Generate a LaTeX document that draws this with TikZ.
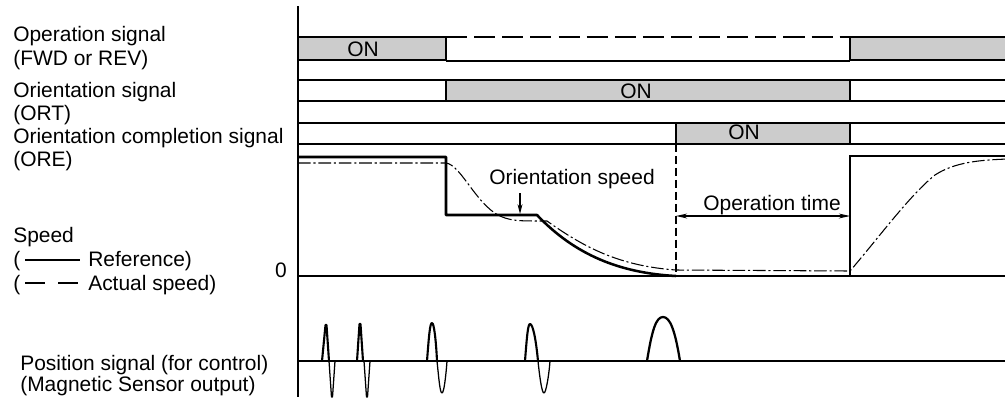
\documentclass[tikz,border=0pt]{standalone}
\usepackage{fontspec}
\setmainfont{Liberation Sans}
\usetikzlibrary{arrows.meta}
\begin{document}
\begin{tikzpicture}[x=0.025cm,y=-0.025cm,
  lbl/.style={anchor=base west,inner sep=0pt,font=\fontsize{14.9}{17}\selectfont},
  ctext/.style={anchor=base,inner sep=0pt,font=\fontsize{14.9}{17}\selectfont},
  ontext/.style={inner sep=0pt,font=\fontsize{14.9}{17}\selectfont},
  thk/.style={line width=1.8pt},
  onbox/.style={draw,line width=1.8pt,fill=gray!40},
  offbox/.style={draw,line width=1.8pt,fill=white},
  actual/.style={line width=0.75pt,dash pattern=on 9pt off 2pt on 1.5pt off 2pt},
  thinarrow/.style={line width=0.8pt},
]
\useasboundingbox (0,0) rectangle (1005,397);
\begin{scope}
\clip (0,0) rectangle (1005,397);

% ---------- labels ----------
\node[lbl] (l1a) at (13,41.7) {Operation signal};
\node[lbl] (l1b) at (13,65) {(FWD or REV)};
\node[lbl] (l2a) at (13,97) {Orientation signal};
\node[lbl] (l2b) at (13,120.5) {(ORT)};
\node[lbl] (l3a) at (13,143.3) {Orientation completion signal};
\node[lbl] (l3b) at (13,166.5) {(ORE)};
\node[lbl] (sp) at (13,242) {Speed};
\node[lbl] (spa) at (13,266) {(};
\node[lbl] (spb) at (88,266) {Reference)};
\node[lbl] (spc) at (13,290) {(};
\node[lbl] (spd) at (88,290) {Actual speed)};
\draw[line width=1.3pt] (25,260) -- (80,260);
\draw[line width=1.3pt] (25,283) -- (45,283) (58,283) -- (78,283);
\node[ctext] (zero) at (281,277) {0};
\node[lbl] (pos1) at (20,370) {Position signal (for control)};
\node[lbl] (pos2) at (20,391) {(Magnetic Sensor output)};

% ---------- operation signal ----------
\draw[onbox] (298,37) rectangle (446,60);
\node[ontext] (on1) at (363,49) {ON};
\draw[thk,dash pattern=on 15pt off 5pt] (446,37) -- (850,37);
\draw[line width=1.2pt] (446,61) -- (850,61);
\draw[thk] (446,37) -- (446,61);
\draw[onbox] (850,37) rectangle (1012,60);

% ---------- orientation signal ----------
\draw[offbox] (298,80) rectangle (446,101);
\draw[onbox] (446,80) rectangle (850,101);
\draw[offbox] (850,80) rectangle (1012,101);
\node[ontext] (on2) at (636,91) {ON};

% ---------- orientation completion ----------
\draw[offbox] (298,123) rectangle (676,144);
\draw[onbox] (676,123) rectangle (850,144);
\draw[offbox] (850,123) rectangle (1012,144);
\node[ontext] (on3) at (744,132.5) {ON};

% ---------- speed ----------
\draw[thk] (298,276) -- (1012,276);
\draw[thk,line join=round] (298,157) -- (446,157) -- (446,215) -- (537,215)
   .. controls (575,255) and (620,273) .. (676,276);
\draw[thk] (850,276) -- (850,156) -- (1012,156);
\draw[actual] (298,163) -- (446,163)
   .. controls (462,165) and (478,210) .. (505,218)
   .. controls (515,221) and (520,221) .. (547,221)
   .. controls (585,248) and (620,266) .. (676,270) -- (850,271)
   .. controls (880,236) and (910,195) .. (935,175)
   .. controls (955,162) and (980,160) .. (1008,159);
\draw[line width=1pt,dash pattern=on 6pt off 2.5pt] (676,144) -- (676,276);

\coordinate (otL) at (676,216);
\coordinate (otR) at (850,216);
\draw[thinarrow,{Stealth[length=8pt,width=3.5pt]}-{Stealth[length=8pt,width=3.5pt]}] (otL) -- (otR);
\node[ctext] (optime) at (772,210) {Operation time};

\node[ctext] (orspeed) at (572,184) {Orientation speed};
\coordinate (osA) at (520,193);
\coordinate (osB) at (520,214);
\draw[thinarrow,-{Stealth[length=7pt,width=3.5pt]}] (osA) -- (osB);

% ---------- position signal ----------
\draw[line width=1.6pt] (298,361) -- (1012,361);
\begin{scope}[line join=round]
% spike 1
\draw[line width=1.5pt] (322,361) -- (325.5,325) -- (326.5,325) -- (329,361);
\draw[line width=0.9pt] (329,361) -- (331.5,397) -- (332.5,397) -- (335,361);
% spike 2
\draw[line width=1.5pt] (357,361) -- (359.5,324) -- (360.5,324) -- (363,361);
\draw[line width=0.9pt] (364,361) -- (366.5,397) -- (367.5,397) -- (370,361);
% spike 3
\draw[line width=1.5pt] (427,361) .. controls (429,335) and (430,323) .. (432,323)
   .. controls (434,323) and (436,340) .. (437,361);
\draw[line width=0.9pt] (437,361) .. controls (439,380) and (440,393) .. (442,393)
   .. controls (444,393) and (446,375) .. (447,361);
% spike 4
\draw[line width=1.5pt] (525,361) .. controls (527,335) and (528,324) .. (530,324)
   .. controls (533,324) and (536,340) .. (538,361);
\draw[line width=0.9pt] (538,361) .. controls (540,380) and (542,393) .. (544,393)
   .. controls (546,393) and (549,375) .. (550,361);
% hump
\draw[line width=1.6pt] (647,361) .. controls (652,330) and (656,317) .. (663,317)
   .. controls (670,317) and (675,330) .. (680,361);
\end{scope}

% ---------- axis ----------
\draw[line width=1.1pt] (298,6) -- (298,397);
\end{scope}
\end{tikzpicture}
\end{document}
